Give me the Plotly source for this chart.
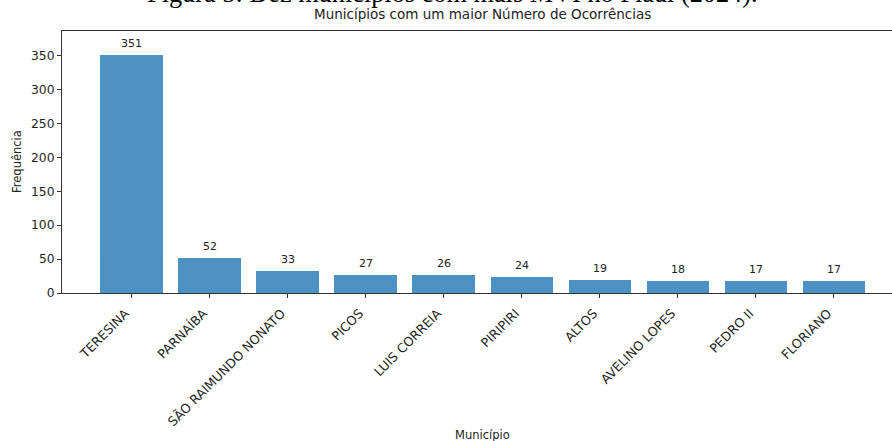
import plotly.graph_objects as go

municipios = ["TERESINA", "PARNAÍBA", "SÃO RAIMUNDO NONATO", "PICOS", "LUIS CORREIA",
              "PIRIPIRI", "ALTOS", "AVELINO LOPES", "PEDRO II", "FLORIANO"]
frequencia = [351, 52, 33, 27, 26, 24, 19, 18, 17, 17]

caption = "Figura 5: Dez municípios com mais MVI no Piauí (2024)."
titulo = "Municípios com um maior Número de Ocorrências"
x_title = "Município"
y_title = "Frequência"
y_ticks = [0, 50, 100, 150, 200, 250, 300, 350]

xs = list(range(len(municipios)))
font = "DejaVu Sans, sans-serif"

fig = go.Figure()
fig.add_trace(go.Bar(
    x=xs, y=frequencia, width=0.8,
    marker=dict(color="#1f77b4", line=dict(width=0)), opacity=0.8,
    hoverinfo="skip",
))

ann = []
for xi, v in zip(xs, frequencia):
    ann.append(dict(x=xi, y=v, xref="x", yref="y", text=str(v), showarrow=False,
                    yanchor="bottom", yshift=3, font=dict(family=font, size=11, color="#222")))

center = (xs[0] - 0.89 + xs[-1] + 0.89) / 2
ann.append(dict(x=center, y=1, xref="x", yref="paper", text=titulo, showarrow=False,
                yanchor="bottom", yshift=7, font=dict(family=font, size=13.5, color="#222")))
ann.append(dict(x=center, y=0, xref="x", yref="paper", text=x_title, showarrow=False,
                yanchor="top", yshift=-133, font=dict(family=font, size=11.5, color="#222")))
ann.append(dict(x=0, y=0.5, xref="paper", yref="paper", text=y_title, showarrow=False,
                textangle=-90, xanchor="center", xshift=-45, font=dict(family=font, size=11.5, color="#222")))
ann.append(dict(x=0.5, y=1, xref="paper", yref="paper", text=caption, showarrow=False,
                xanchor="center", yanchor="bottom", yshift=21, xshift=452 - (62 + 892) / 2,
                font=dict(family="Liberation Serif, Times New Roman, serif", size=26.3, color="black")))

fig.update_layout(
    width=892, height=441,
    margin=dict(l=62, r=0, t=31, b=148, autoexpand=False),
    paper_bgcolor="white", plot_bgcolor="white",
    showlegend=False,
    annotations=ann,
    bargap=0,
)
fig.update_xaxes(
    range=[xs[0] - 0.89, (892 - 131) / 78.1], automargin=False,
    tickmode="array", tickvals=xs, ticktext=municipios, tickangle=-45,
    ticks="outside", ticklen=4, tickcolor="#333", showline=True, linecolor="#333", linewidth=1,
    mirror=True, showgrid=False, zeroline=False, ticklabelshift=-6, ticklabelstandoff=3,
    tickfont=dict(family=font, size=12.7, color="#222"),
)
fig.update_yaxes(
    range=[0, max(frequencia) * 1.1], automargin=False,
    tickmode="array", tickvals=y_ticks,
    ticks="outside", ticklen=4, tickcolor="#333", showline=True, linecolor="#333", linewidth=1,
    showgrid=False, zeroline=False,
    tickfont=dict(family=font, size=12.3, color="#222"),
)

fig.write_html("out.html", config={"displayModeBar": False},
               post_script="document.body.style.margin='0';document.body.style.overflow='hidden';")
